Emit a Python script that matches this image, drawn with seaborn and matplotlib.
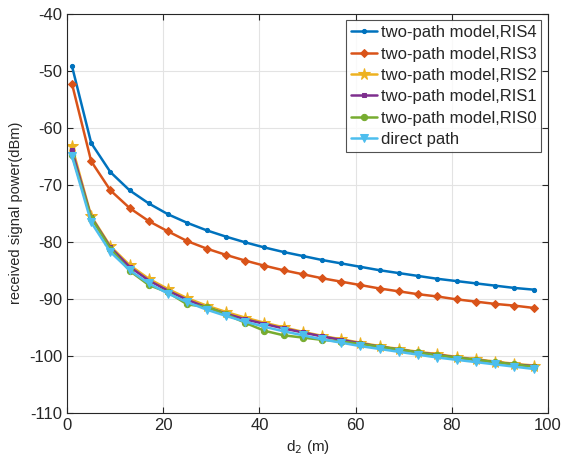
import numpy as np
import pandas as pd
import matplotlib
matplotlib.use("Agg")
import matplotlib.pyplot as plt
import seaborn as sns

# distance d2 (m)
d2 = list(range(1, 98, 4))

ris4 = [-49.2, -62.7, -67.8, -71.0, -73.3, -75.2, -76.7, -78.0, -79.1, -80.1, -81.0, -81.8, -82.5,
        -83.2, -83.8, -84.4, -85.0, -85.5, -86.0, -86.5, -86.9, -87.3, -87.7, -88.1, -88.4]
ris3 = [-52.3, -65.9, -71.0, -74.1, -76.4, -78.2, -79.9, -81.2, -82.3, -83.3, -84.2, -85.0, -85.7,
        -86.4, -87.0, -87.6, -88.2, -88.7, -89.2, -89.6, -90.1, -90.5, -90.9, -91.2, -91.6]
ris2 = [-63.3, -75.5, -80.8, -84.1, -86.5, -88.3, -89.9, -91.2, -92.3, -93.3, -94.2, -95.0, -95.8,
        -96.5, -97.1, -97.7, -98.3, -98.8, -99.3, -99.7, -100.2, -100.6, -101.0, -101.4, -101.7]
ris1 = [-64.0, -75.7, -81.0, -84.4, -86.8, -88.6, -90.2, -91.5, -92.6, -93.6, -94.4, -95.2, -95.9,
        -96.6, -97.2, -97.8, -98.4, -98.9, -99.4, -99.8, -100.3, -100.7, -101.1, -101.5, -101.8]
ris0 = [-64.8, -75.8, -81.2, -85.1, -87.6, -88.9, -91.0, -91.4, -92.7, -94.2, -95.6, -96.4, -96.8,
        -97.2, -97.5, -97.9, -98.4, -98.9, -99.4, -99.9, -100.3, -100.7, -101.1, -101.5, -101.9]
direct = [-65.0, -76.6, -81.8, -85.0, -87.3, -89.1, -90.6, -91.9, -93.0, -94.0, -94.9, -95.7, -96.4,
          -97.1, -97.7, -98.3, -98.8, -99.3, -99.8, -100.3, -100.7, -101.1, -101.5, -101.9, -102.3]

labels = ["two-path model,RIS4", "two-path model,RIS3", "two-path model,RIS2",
          "two-path model,RIS1", "two-path model,RIS0", "direct path"]
series = [ris4, ris3, ris2, ris1, ris0, direct]
colors = ["#0072BD", "#D95319", "#EDB120", "#7E2F8E", "#77AC30", "#4DBEEE"]
markers = [".", "D", "*", "s", "o", "v"]
msizes = [6, 4.5, 8.5, 3.5, 4.5, 6]

sns.set_theme(style="ticks")
plt.rcParams["font.family"] = ["Liberation Sans", "DejaVu Sans"]
plt.rcParams["axes.unicode_minus"] = False

fig = plt.figure(figsize=(5.69, 4.66), dpi=100)
ax = fig.add_axes([0.118, 0.114, 0.845, 0.857])

for y, lab, c, m, ms in zip(series, labels, colors, markers, msizes):
    df = pd.DataFrame({"d2": d2, "p": y})
    sns.lineplot(data=df, x="d2", y="p", ax=ax, color=c, marker=m, markersize=ms,
                 markeredgecolor=c, linewidth=1.8, label=lab)

ax.set_xlim(0, 100)
ax.set_ylim(-110, -40)
ax.set_xticks(range(0, 101, 20))
ax.set_yticks(range(-110, -39, 10))
ax.grid(True, color="#e3e3e3", linewidth=0.8)
ax.set_axisbelow(True)
ax.tick_params(direction="in", top=True, right=True, labelsize=12, colors="#262626",
               length=4, width=0.8)
for s in ax.spines.values():
    s.set_color("#262626")
    s.set_linewidth(0.8)
ax.set_xlabel("d$_2$ (m)", fontsize=11, color="#262626")
ax.set_ylabel("received signal power(dBm)", fontsize=10.5, color="#262626")

leg = ax.legend(loc="upper right", fontsize=12, frameon=True, fancybox=False,
                handlelength=1.6, handletextpad=0.2, borderpad=0.3, labelspacing=0.38,
                borderaxespad=0.4, edgecolor="#262626")
leg.get_frame().set_linewidth(0.8)

fig.savefig("out.png", dpi=100)
